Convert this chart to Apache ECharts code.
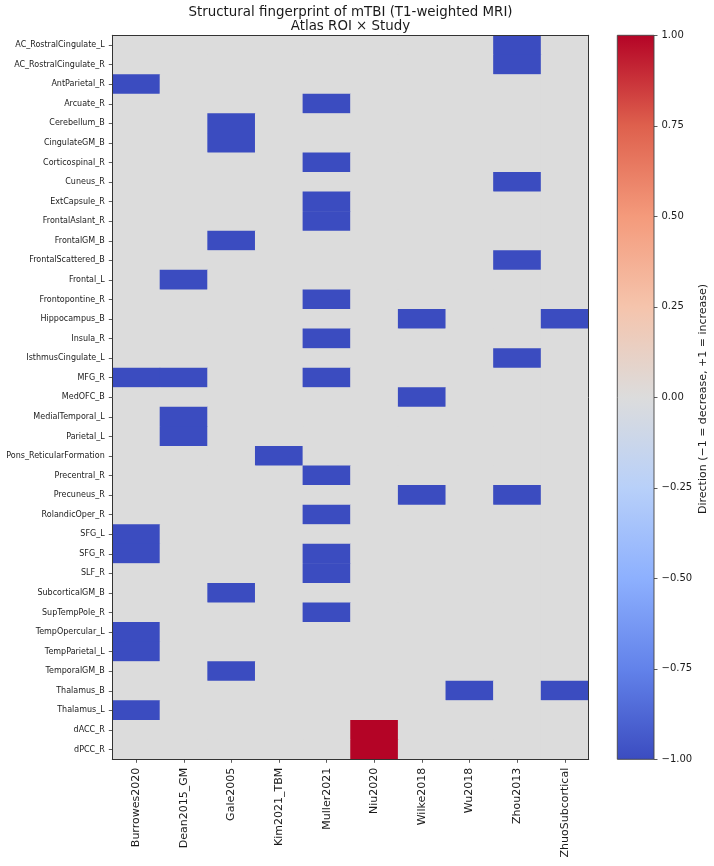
<!DOCTYPE html>
<html><head><meta charset="utf-8">
<script src="https://cdn.jsdelivr.net/npm/echarts@6.0.0/dist/echarts.min.js"></script>
<style>html,body{margin:0;padding:0;background:#fff}#c{width:714px;height:866px}</style>
</head><body><div id="c"></div><script>
const studies = ["Burrowes2020","Dean2015_GM","Gale2005","Kim2021_TBM","Muller2021","Niu2020","Wilke2018","Wu2018","Zhou2013","ZhuoSubcortical"];
const rois = ["AC_RostralCingulate_L","AC_RostralCingulate_R","AntParietal_R","Arcuate_R","Cerebellum_B","CingulateGM_B","Corticospinal_R","Cuneus_R","ExtCapsule_R","FrontalAslant_R","FrontalGM_B","FrontalScattered_B","Frontal_L","Frontopontine_R","Hippocampus_B","Insula_R","IsthmusCingulate_L","MFG_R","MedOFC_B","MedialTemporal_L","Parietal_L","Pons_ReticularFormation","Precentral_R","Precuneus_R","RolandicOper_R","SFG_L","SFG_R","SLF_R","SubcorticalGM_B","SupTempPole_R","TempOpercular_L","TempParietal_L","TemporalGM_B","Thalamus_B","Thalamus_L","dACC_R","dPCC_R"];
// cells with direction -1 (decrease)
const decreaseCells = [
  ["AC_RostralCingulate_L","Zhou2013"],["AC_RostralCingulate_R","Zhou2013"],
  ["AntParietal_R","Burrowes2020"],["Arcuate_R","Muller2021"],
  ["Cerebellum_B","Gale2005"],["CingulateGM_B","Gale2005"],
  ["Corticospinal_R","Muller2021"],["Cuneus_R","Zhou2013"],
  ["ExtCapsule_R","Muller2021"],["FrontalAslant_R","Muller2021"],
  ["FrontalGM_B","Gale2005"],["FrontalScattered_B","Zhou2013"],
  ["Frontal_L","Dean2015_GM"],["Frontopontine_R","Muller2021"],
  ["Hippocampus_B","Wilke2018"],["Hippocampus_B","ZhuoSubcortical"],
  ["Insula_R","Muller2021"],["IsthmusCingulate_L","Zhou2013"],
  ["MFG_R","Burrowes2020"],["MFG_R","Dean2015_GM"],["MFG_R","Muller2021"],
  ["MedOFC_B","Wilke2018"],["MedialTemporal_L","Dean2015_GM"],["Parietal_L","Dean2015_GM"],
  ["Pons_ReticularFormation","Kim2021_TBM"],["Precentral_R","Muller2021"],
  ["Precuneus_R","Wilke2018"],["Precuneus_R","Zhou2013"],["RolandicOper_R","Muller2021"],
  ["SFG_L","Burrowes2020"],["SFG_R","Burrowes2020"],["SFG_R","Muller2021"],["SLF_R","Muller2021"],
  ["SubcorticalGM_B","Gale2005"],["SupTempPole_R","Muller2021"],
  ["TempOpercular_L","Burrowes2020"],["TempParietal_L","Burrowes2020"],
  ["TemporalGM_B","Gale2005"],["Thalamus_B","Wu2018"],["Thalamus_B","ZhuoSubcortical"],
  ["Thalamus_L","Burrowes2020"]
];
// cells with direction +1 (increase)
const increaseCells = [["dACC_R","Niu2020"],["dPCC_R","Niu2020"]];
const colorbarRange = [-1, 1];
const coolwarm = ["#3b4cc0","#6282ea","#8db0fe","#b8d0f9","#dcdcdc","#f5c4ac","#f49a7b","#de604d","#b40426"];

const val = {};
decreaseCells.forEach(([r,s]) => val[r+'|'+s] = -1);
increaseCells.forEach(([r,s]) => val[r+'|'+s] = 1);
const heatData = [];
rois.forEach((r, yi) => studies.forEach((s, xi) => {
  heatData.push([xi, yi, val[r+'|'+s] !== undefined ? val[r+'|'+s] : 0]);
}));

const FONT = 'DejaVu Sans';
const TXT = '#1a1a1a';
const chart = echarts.init(document.getElementById('c'), null, {renderer:'canvas'});
const nC = coolwarm.length;
// top of the colorbar is +1 (red), bottom is -1 (blue)
const gradStops = coolwarm.slice().reverse().map((c,i) => ({offset: i/(nC-1), color: c}));

chart.setOption({
  animation: false,
  backgroundColor: '#fff',
  title: {
    text: 'Structural fingerprint of mTBI (T1-weighted MRI)\nAtlas ROI × Study',
    left: 350.5, top: 4.8, padding: 0, textAlign: 'center',
    textStyle: {fontFamily: FONT, fontSize: 13.4, fontWeight: 'normal', color: TXT, lineHeight: 14.7}
  },
  grid: [
    {left: 112.3, top: 35.3, width: 476.4, height: 724, containLabel: false,
     show: true, backgroundColor: '#dcdcdc', borderWidth: 0},
    {left: 617.3, top: 35.3, width: 36.7, height: 724, containLabel: false}
  ],
  xAxis: [
    {type: 'category', gridIndex: 0, data: studies, position: 'bottom', z: 10,
     axisLine: {show: true, onZero: false, lineStyle: {color: '#333', width: 1}},
     axisTick: {show: true, alignWithLabel: true, length: 3.5, lineStyle: {color: '#333', width: 0.8}},
     axisLabel: {rotate: 90, margin: 8.5, fontFamily: FONT, fontSize: 11, color: TXT, interval: 0},
     splitLine: {show: false}},
    {type: 'category', gridIndex: 0, data: studies, position: 'top', z: 10,
     axisLine: {show: true, onZero: false, lineStyle: {color: '#333', width: 1}},
     axisTick: {show: false}, axisLabel: {show: false}, splitLine: {show: false}},
    {type: 'value', gridIndex: 1, min: 0, max: 1, show: false,
     axisLine: {onZero: false}}
  ],
  yAxis: [
    {type: 'category', gridIndex: 0, data: rois, inverse: true, position: 'left', z: 10,
     axisLine: {show: true, onZero: false, lineStyle: {color: '#333', width: 1}},
     axisTick: {show: true, alignWithLabel: true, length: 3.5, lineStyle: {color: '#333', width: 0.8}},
     axisLabel: {margin: 7.6, fontFamily: FONT, fontSize: 8, color: TXT, interval: 0},
     splitLine: {show: false}},
    {type: 'category', gridIndex: 0, data: rois, inverse: true, position: 'right', z: 10,
     axisLine: {show: true, onZero: false, lineStyle: {color: '#333', width: 1}},
     axisTick: {show: false}, axisLabel: {show: false}, splitLine: {show: false}},
    {type: 'value', gridIndex: 1, min: -1, max: 1, interval: 0.25, position: 'right', z: 10,
     axisLine: {show: false, onZero: false},
     axisTick: {show: true, inside: false, length: 3.5, lineStyle: {color: '#333', width: 0.8}},
     axisLabel: {margin: 7.5, fontFamily: FONT, fontSize: 10, color: TXT,
       formatter: v => (v < 0 ? '\u2212' : '') + Math.abs(v).toFixed(2)},
     splitLine: {show: false}, splitArea: {show: false}}
  ],
  visualMap: {
    type: 'continuous', show: false, min: -1, max: 1, seriesIndex: 0, dimension: 2,
    inRange: {color: coolwarm}
  },
  series: [
    {type: 'heatmap', xAxisIndex: 0, yAxisIndex: 0, data: heatData,
     itemStyle: {borderWidth: 0},
     emphasis: {disabled: true}, progressive: 0},
    {type: 'custom', xAxisIndex: 2, yAxisIndex: 2, data: [colorbarRange], clip: false, z: 1,
     renderItem: (params, api) => {
       const p1 = api.coord([0, api.value(1)]);
       const p2 = api.coord([1, api.value(0)]);
       return {type: 'rect', shape: {x: p1[0], y: p1[1], width: p2[0]-p1[0], height: p2[1]-p1[1]},
         style: {fill: new echarts.graphic.LinearGradient(0, 0, 0, 1, gradStops), stroke: '#444', lineWidth: 0.9}};
     }}
  ],
  graphic: [
    {type: 'text', x: 703.3, y: 399, rotation: Math.PI/2,
     style: {text: 'Direction (\u22121 = decrease, +1 = increase)', fontFamily: FONT, fontSize: 11, fill: TXT,
       align: 'center', verticalAlign: 'middle', textAlign: 'center', textVerticalAlign: 'middle'}}
  ]
});
</script></body></html>
